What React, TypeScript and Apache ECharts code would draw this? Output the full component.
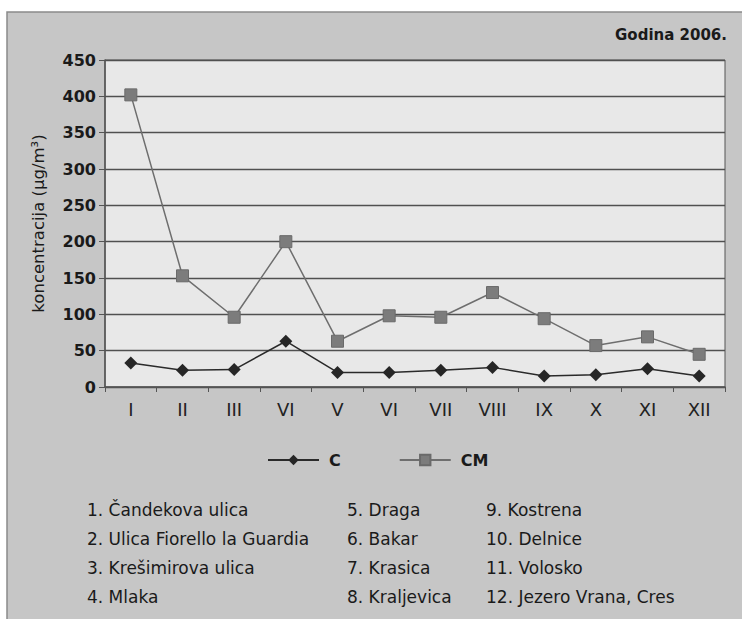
import React, { useEffect, useRef } from "react";
import * as echarts from "echarts";

const categories = ["I", "II", "III", "VI", "V", "VI", "VII", "VIII", "IX", "X", "XI", "XII"];
const seriesC = [33, 23, 24, 63, 20, 20, 23, 27, 15, 17, 25, 15];
const seriesCM = [402, 153, 96, 200, 63, 98, 96, 130, 94, 57, 69, 45];
const yTicks = { min: 0, max: 450, interval: 50 };
const stationsCol1 = ["1. Čandekova ulica", "2. Ulica Fiorello la Guardia", "3. Krešimirova ulica", "4. Mlaka"];
const stationsCol2 = ["5. Draga", "6. Bakar", "7. Krasica", "8. Kraljevica"];
const stationsCol3 = ["9. Kostrena", "10. Delnice", "11. Volosko", "12. Jezero Vrana, Cres"];
const yearLabel = "Godina 2006.";

const FONT = "'DejaVu Sans', 'Noto Sans', sans-serif";

export default function App() {
  const ref = useRef<HTMLDivElement>(null);
  useEffect(() => {
    if (!ref.current) return;
    const chart = echarts.init(ref.current, null, { renderer: "svg" });
    const rowsY = [511, 540, 569, 598];
    const listTexts: any[] = [];
    const cols: [string[], number][] = [
      [stationsCol1, 87],
      [stationsCol2, 347],
      [stationsCol3, 486],
    ];
    cols.forEach(([arr, x]) => {
      arr.forEach((t, i) => {
        listTexts.push({
          type: "text",
          left: x,
          top: rowsY[i] - 10,
          style: { text: t, fill: "#1a1a1a", font: `17px ${FONT}` },
        });
      });
    });
    chart.setOption({
      animation: false,
      backgroundColor: "#ffffff",
      graphic: [
        {
          type: "rect",
          shape: { x: 7, y: 12, width: 740, height: 620 },
          style: { fill: "#c6c6c6", stroke: "#8a8a8a", lineWidth: 1.5 },
          z: -10,
        },
        {
          type: "text",
          right: 15,
          top: 27,
          style: { text: yearLabel, fill: "#1a1a1a", font: `bold 15px ${FONT}` },
        },
        ...listTexts,
      ],
      grid: {
        left: 105,
        right: 17,
        top: 60,
        bottom: 232,
        show: true,
        backgroundColor: "#e8e8e8",
        borderColor: "#555555",
        borderWidth: 1,
      },
      legend: {
        left: 262,
        top: 447,
        itemWidth: 51,
        itemHeight: 13,
        itemGap: 58,
        textStyle: { fontFamily: FONT, fontSize: 16, color: "#1a1a1a", fontWeight: "bold", padding: [0, 0, 0, 5] },
        data: ["C", "CM"],
      },
      xAxis: {
        type: "category",
        data: categories,
        boundaryGap: true,
        axisLine: { show: true, lineStyle: { color: "#555555", width: 1.5 } },
        axisTick: { show: true, alignWithLabel: false, length: 5, lineStyle: { color: "#555555" } },
        axisLabel: { fontFamily: FONT, fontSize: 18, color: "#222222", margin: 13 },
      },
      yAxis: {
        type: "value",
        min: yTicks.min,
        max: yTicks.max,
        interval: yTicks.interval,
        name: "koncentracija (μg/m³)",
        nameLocation: "middle",
        nameGap: 58,
        nameTextStyle: { fontFamily: FONT, fontSize: 16.5, color: "#1a1a1a" },
        axisLine: { show: true, lineStyle: { color: "#555555", width: 1.5 } },
        axisTick: { show: true, length: 6, lineStyle: { color: "#555555" } },
        axisLabel: { fontFamily: FONT, fontSize: 16, color: "#1a1a1a", fontWeight: "bold", margin: 9 },
        splitLine: { show: true, lineStyle: { color: "#505050", width: 1.3 } },
      },
      series: [
        {
          name: "C",
          type: "line",
          data: seriesC,
          symbol: "diamond",
          symbolSize: 13,
          itemStyle: { color: "#262626" },
          lineStyle: { color: "#2a2a2a", width: 1.5 },
        },
        {
          name: "CM",
          type: "line",
          data: seriesCM,
          symbol: "rect",
          symbolSize: 12,
          itemStyle: { color: "#7c7c7c", borderColor: "#6a6a6a", borderWidth: 1 },
          lineStyle: { color: "#6e6e6e", width: 1.5 },
        },
      ],
    });
    return () => chart.dispose();
  }, []);
  return <div ref={ref} style={{ width: 742, height: 619, position: "absolute", left: 0, top: 0 }} />;
}
